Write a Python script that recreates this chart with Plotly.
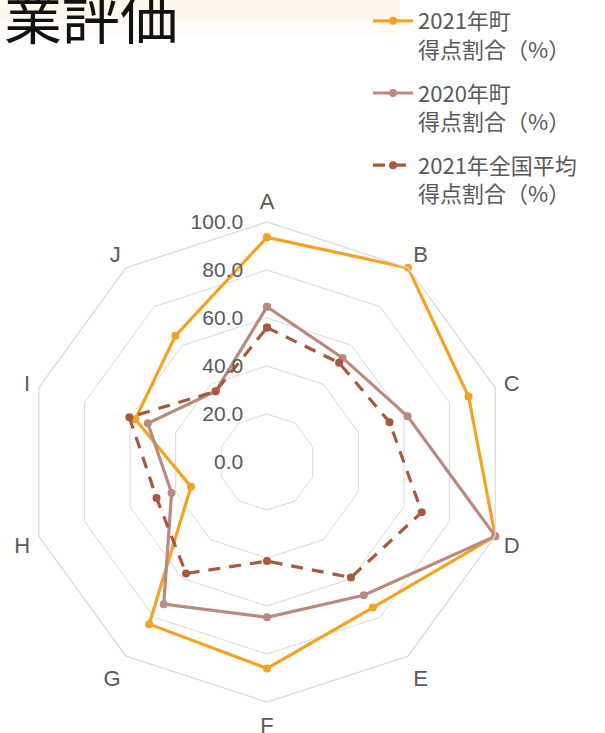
import plotly.graph_objects as go

categories = ["A", "B", "C", "D", "E", "F", "G", "H", "I", "J"]
town_2021 = [93.6, 100.0, 88.3, 100.0, 75.0, 86.0, 83.5, 33.3, 57.7, 65.0]
town_2020 = [64.7, 53.6, 61.6, 100.0, 68.6, 64.7, 73.2, 41.8, 52.2, 36.4]
national_2021 = [56.0, 51.1, 53.7, 67.8, 59.5, 41.3, 57.4, 48.4, 60.3, 36.4]
series_names = [
    "2021年町<br>得点割合（%）",
    "2020年町<br>得点割合（%）",
    "2021年全国平均<br>得点割合（%）",
]
radial_ticks = [0, 20, 40, 60, 80, 100]

W, H = 605, 733
cx, cy, R = 267, 462, 240

fig = go.Figure()
styles = [
    dict(color="#F3A324", dash="solid"),
    dict(color="#B98A7F", dash="solid"),
    dict(color="#A9583E", dash="12px,9px"),
]
for i, (vals, name) in enumerate(zip([town_2021, town_2020, national_2021], series_names)):
    st = styles[i]
    fig.add_trace(go.Scatterpolar(
        r=vals + [vals[0]],
        theta=categories + [categories[0]],
        mode="lines+markers",
        name=name,
        legendgroup=f"g{i}",
        line=dict(color=st["color"], width=3.2, dash=st["dash"]),
        marker=dict(color=st["color"], size=8),
    ))

font_family = "Liberation Sans, Noto Sans CJK JP, sans-serif"

fig.update_layout(
    width=W, height=H,
    margin=dict(l=0, r=0, t=0, b=0),
    paper_bgcolor="white",
    plot_bgcolor="white",
    font=dict(family=font_family, color="#595959", size=20),
    polar=dict(
        domain=dict(x=[(cx - R) / W, (cx + R) / W], y=[1 - (cy + R) / H, 1 - (cy - R) / H]),
        bgcolor="rgba(0,0,0,0)",
        gridshape="linear",
        angularaxis=dict(
            rotation=90, direction="clockwise",
            showgrid=False, showline=True, linecolor="#D9D9D9", linewidth=1.2,
            ticks="outside", ticklen=4, tickcolor="rgba(0,0,0,0)",
            tickfont=dict(size=22, color="#595959", family=font_family),
        ),
        radialaxis=dict(
            range=[0, 100], tickvals=radial_ticks, tickformat=".1f",
            angle=90, tickangle=90, side="counterclockwise",
            showline=False, ticks="outside", ticklen=16, tickcolor="rgba(0,0,0,0)",
            gridcolor="#D9D9D9", gridwidth=1.2,
            tickfont=dict(size=21, color="#595959", family=font_family),
        ),
    ),
    legend=dict(
        x=368 / W, y=1.0, xanchor="left", yanchor="top",
        font=dict(size=22, color="#595959", family="Noto Sans CJK JP, sans-serif"),
        valign="top", tracegroupgap=12, itemwidth=40,
        bgcolor="rgba(0,0,0,0)",
    ),
    shapes=[
        dict(type="rect", xref="paper", yref="paper", x0=0, x1=400 / W,
             y0=1 - 18 / H, y1=1, fillcolor="rgba(253,240,224,0.55)", line=dict(width=0), layer="below"),
        dict(type="rect", xref="paper", yref="paper", x0=0, x1=400 / W,
             y0=1 - 34 / H, y1=1 - 18 / H, fillcolor="rgba(253,240,224,0.3)", line=dict(width=0), layer="below"),
    ],
    annotations=[
        dict(text="業評価", xref="paper", yref="paper", x=0, y=1, xanchor="left", yanchor="top",
             xshift=2, yshift=30, showarrow=False,
             font=dict(size=58, color="#111111", family="Noto Sans CJK JP, sans-serif")),
    ],
)

fig.write_html("out.html")
